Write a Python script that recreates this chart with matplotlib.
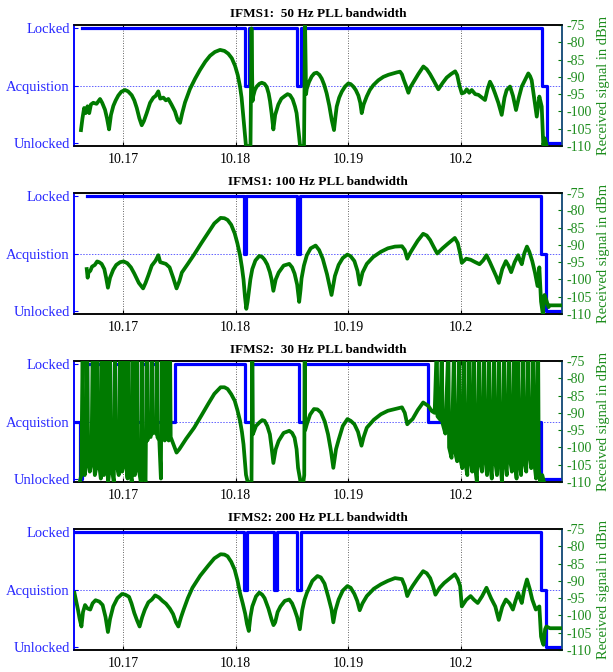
import matplotlib
matplotlib.use("Agg")
import matplotlib.pyplot as plt

# ---------------- data ----------------
titles = ["IFMS1:  50 Hz PLL bandwidth", "IFMS1: 100 Hz PLL bandwidth",
          "IFMS2:  30 Hz PLL bandwidth", "IFMS2: 200 Hz PLL bandwidth"]
x_ticks = [10.17, 10.18, 10.19, 10.20]
x_tick_labels = ["10.17", "10.18", "10.19", "10.2"]
state_ticks = [0, 1, 2]
state_labels = ["Unlocked", "Acquistion", "Locked"]
dbm_ticks = [-110, -105, -100, -95, -90, -85, -80, -75]
x_range = [10.16565, 10.20895]
dbm_range = [-110, -75]

# Panel 1 : IFMS1 50 Hz
p1_state_f = [10.16636, 10.18080, 10.18120, 10.18540, 10.18580, 10.20716, 10.20760, 10.20895]
p1_state = [2, 1, 2, 1, 2, 1, 0, 0]
p1_sig = [
    (10.16627, -105.4), (10.16640, -102.0), (10.16655, -99.0), (10.16668, -100.5),
    (10.16685, -98.5), (10.16700, -100.5), (10.16715, -98.0), (10.16736, -97.5),
    (10.16765, -97.8), (10.16796, -96.4), (10.16815, -97.5), (10.16840, -99.5),
    (10.16858, -102.0), (10.16876, -105.2), (10.16893, -101.0), (10.16914, -98.4),
    (10.16935, -96.8), (10.16958, -95.4), (10.16985, -94.3), (10.17018, -93.8),
    (10.17045, -94.2), (10.17077, -95.3), (10.17100, -96.8), (10.17122, -99.0),
    (10.17145, -102.0), (10.17166, -104.0), (10.17185, -102.8), (10.17210, -100.5),
    (10.17240, -97.5), (10.17269, -96.0), (10.17290, -95.5), (10.17313, -94.2),
    (10.17330, -96.3), (10.17358, -96.0), (10.17380, -96.8), (10.17402, -96.4),
    (10.17430, -98.0), (10.17461, -100.0), (10.17485, -102.5), (10.17506, -103.3),
    (10.17525, -100.5), (10.17550, -97.4), (10.17594, -93.5), (10.17640, -90.5),
    (10.17683, -88.0), (10.17730, -85.6), (10.17772, -83.9), (10.17815, -82.8),
    (10.17861, -82.2), (10.17900, -82.5), (10.17934, -83.3), (10.17965, -84.6),
    (10.17994, -86.8), (10.18018, -89.5), (10.18038, -92.8), (10.18052, -96.0),
    (10.18062, -99.6), (10.18073, -103.5), (10.18083, -107.3), (10.18091, -110.0),
    (10.18131, -110.0), (10.18140, -76.0), (10.18149, -97.0), (10.18156, -95.5),
    (10.18170, -93.8), (10.18186, -92.8), (10.18210, -92.0), (10.18231, -91.7),
    (10.18255, -92.0), (10.18275, -92.9), (10.18292, -94.8), (10.18304, -97.0),
    (10.18318, -100.5), (10.18334, -105.2), (10.18350, -101.0), (10.18378, -98.0),
    (10.18405, -96.3), (10.18437, -95.5), (10.18460, -95.0), (10.18482, -95.3),
    (10.18505, -96.5), (10.18526, -98.6), (10.18540, -100.5), (10.18550, -103.4),
    (10.18560, -106.5), (10.18571, -110.0), (10.18606, -110.0), (10.18615, -74.0),
    (10.18624, -95.0), (10.18630, -93.5), (10.18650, -91.5), (10.18674, -89.9),
    (10.18697, -89.0), (10.18719, -88.8), (10.18742, -89.4), (10.18763, -90.5),
    (10.18785, -92.3), (10.18807, -94.8), (10.18830, -98.3), (10.18852, -102.5),
    (10.18872, -105.4), (10.18885, -101.5), (10.18896, -98.6), (10.18918, -96.0),
    (10.18941, -94.3), (10.18970, -92.8), (10.18999, -91.9), (10.19020, -92.1),
    (10.19043, -92.8), (10.19065, -93.8), (10.19088, -95.4), (10.19105, -97.5),
    (10.19118, -100.5), (10.19135, -98.0), (10.19162, -95.7), (10.19190, -93.8),
    (10.19221, -92.4), (10.19265, -91.0), (10.19310, -90.0), (10.19355, -89.4),
    (10.19398, -89.0), (10.19430, -88.7), (10.19458, -88.5), (10.19475, -89.3),
    (10.19490, -90.8), (10.19510, -92.5), (10.19532, -94.6), (10.19550, -93.0),
    (10.19576, -91.6), (10.19620, -89.2), (10.19665, -87.0), (10.19695, -87.8),
    (10.19724, -89.2), (10.19760, -91.3), (10.19798, -93.6), (10.19835, -91.8),
    (10.19872, -90.2), (10.19910, -89.2), (10.19947, -88.4), (10.19965, -89.5),
    (10.19985, -92.5), (10.20006, -94.8), (10.20030, -94.5), (10.20050, -93.6),
    (10.20072, -94.6), (10.20094, -93.8), (10.20125, -95.0), (10.20153, -95.2),
    (10.20185, -96.0), (10.20212, -96.7), (10.20235, -93.5), (10.20256, -91.4),
    (10.20278, -92.8), (10.20301, -94.8), (10.20330, -97.5), (10.20360, -101.0),
    (10.20385, -96.0), (10.20404, -93.8), (10.20434, -92.8), (10.20460, -95.5),
    (10.20487, -99.6), (10.20512, -96.0), (10.20538, -92.8), (10.20568, -90.8),
    (10.20596, -89.0), (10.20612, -89.8), (10.20626, -91.0), (10.20645, -95.5),
    (10.20671, -101.5), (10.20694, -95.7), (10.20715, -98.6), (10.20729, -109.7),
    (10.20744, -107.8), (10.20759, -110.0)]

# Panel 2 : IFMS1 100 Hz
p2_state_f = [10.16678, 10.18069, 10.18094, 10.18541, 10.18566, 10.20709, 10.20756, 10.20895]
p2_state = [2, 1, 2, 1, 2, 1, 0, 0]
p2_sig = [
    (10.16678, -97.0), (10.16686, -99.5), (10.16694, -98.0), (10.16710, -97.5),
    (10.16725, -96.3), (10.16750, -95.8), (10.16770, -94.8), (10.16788, -95.0),
    (10.16810, -95.5), (10.16834, -97.0), (10.16850, -99.5), (10.16866, -102.4),
    (10.16885, -99.5), (10.16913, -97.2), (10.16940, -95.8), (10.16975, -95.0),
    (10.17005, -94.8), (10.17038, -95.3), (10.17070, -96.5), (10.17100, -98.3),
    (10.17140, -101.0), (10.17178, -102.6), (10.17200, -101.0), (10.17225, -98.8),
    (10.17255, -96.0), (10.17288, -94.6), (10.17313, -93.0), (10.17330, -95.0),
    (10.17350, -95.2), (10.17380, -95.5), (10.17413, -96.5), (10.17445, -99.5),
    (10.17475, -102.6), (10.17500, -100.5), (10.17522, -98.0), (10.17575, -95.5),
    (10.17631, -92.8), (10.17695, -89.5), (10.17756, -86.5), (10.17810, -83.8),
    (10.17866, -82.2), (10.17900, -82.3), (10.17928, -82.8), (10.17960, -84.2),
    (10.17991, -86.7), (10.18015, -89.6), (10.18038, -93.0), (10.18055, -96.5),
    (10.18069, -100.0), (10.18082, -105.0), (10.18094, -108.5), (10.18105, -106.5),
    (10.18116, -103.7), (10.18130, -100.0), (10.18147, -97.0), (10.18175, -94.5),
    (10.18209, -93.2), (10.18235, -93.5), (10.18256, -94.3), (10.18280, -95.7),
    (10.18303, -97.9), (10.18318, -100.0), (10.18334, -103.3), (10.18355, -100.0),
    (10.18381, -98.0), (10.18425, -96.0), (10.18475, -95.5), (10.18500, -96.5),
    (10.18522, -98.3), (10.18545, -101.5), (10.18563, -106.5), (10.18575, -103.0),
    (10.18584, -99.7), (10.18605, -96.0), (10.18631, -93.0), (10.18665, -91.0),
    (10.18709, -90.2), (10.18740, -91.5), (10.18772, -94.0), (10.18810, -98.5),
    (10.18850, -104.5), (10.18880, -99.0), (10.18913, -95.8), (10.18950, -93.8),
    (10.18991, -92.8), (10.19020, -93.3), (10.19053, -94.7), (10.19080, -97.5),
    (10.19100, -101.5), (10.19125, -98.0), (10.19163, -95.5), (10.19220, -93.5),
    (10.19288, -92.0), (10.19350, -91.0), (10.19413, -90.5), (10.19475, -90.4),
    (10.19500, -91.5), (10.19522, -94.0), (10.19545, -92.5), (10.19569, -91.2),
    (10.19615, -88.8), (10.19663, -86.8), (10.19695, -87.3), (10.19725, -88.6),
    (10.19755, -90.5), (10.19788, -92.5), (10.19835, -91.0), (10.19881, -89.7),
    (10.19944, -88.0), (10.19970, -89.5), (10.19991, -92.5), (10.20006, -95.2),
    (10.20045, -94.0), (10.20084, -94.3), (10.20125, -95.0), (10.20163, -95.6),
    (10.20195, -94.5), (10.20225, -93.0), (10.20255, -95.0), (10.20288, -97.4),
    (10.20310, -99.0), (10.20334, -101.0), (10.20365, -97.0), (10.20397, -94.7),
    (10.20420, -96.0), (10.20444, -97.9), (10.20475, -95.0), (10.20506, -93.0),
    (10.20522, -94.5), (10.20538, -95.6), (10.20560, -92.5), (10.20584, -90.5),
    (10.20605, -92.0), (10.20631, -94.7), (10.20655, -98.0), (10.20678, -101.9),
    (10.20694, -96.5), (10.20709, -106.4), (10.20725, -110.0), (10.20740, -104.5),
    (10.20756, -106.0), (10.20775, -108.0), (10.20788, -107.5), (10.20881, -107.5)]

# Panel 3 : IFMS2 30 Hz
p3_state_f = [10.16565, 10.16616, 10.16638, 10.16683, 10.16731, 10.16772, 10.16811, 10.16849,
              10.16885, 10.16929, 10.16973, 10.17009, 10.17047, 10.17086, 10.17122, 10.17166,
              10.17210, 10.17255, 10.17299, 10.17343, 10.17379, 10.17417, 10.17465, 10.18084,
              10.18147, 10.18563, 10.18610, 10.19709, 10.20707, 10.20895]
p3_state = [1, 0, 1, 2, 1, 2, 1, 2,
            1, 2, 1, 2, 1, 2, 1, 2,
            1, 2, 1, 2, 1, 1, 2, 1,
            2, 1, 2, 1, 0, 0]
p3_sig = [
    # cycle-slip region, left
    (10.16616, -110.0), (10.16630, -108.0), (10.16642, -70.0), (10.16648, -104.0),
    (10.16660, -108.0), (10.16672, -105.0), (10.16683, -70.0), (10.16690, -101.0),
    (10.16705, -107.0), (10.16720, -104.0), (10.16731, -70.0), (10.16738, -102.0),
    (10.16750, -108.0), (10.16762, -106.0), (10.16772, -70.0), (10.16778, -100.0),
    (10.16792, -106.0), (10.16803, -109.0), (10.16811, -70.0), (10.16817, -103.0),
    (10.16830, -108.0), (10.16842, -106.0), (10.16849, -70.0), (10.16855, -104.0),
    (10.16868, -110.0), (10.16878, -107.0), (10.16885, -70.0), (10.16892, -102.0),
    (10.16905, -107.0), (10.16918, -110.0), (10.16929, -70.0), (10.16935, -101.0),
    (10.16950, -106.0), (10.16962, -108.0), (10.16973, -70.0), (10.16980, -103.0),
    (10.16992, -107.0), (10.17002, -105.0), (10.17009, -70.0), (10.17015, -100.0),
    (10.17030, -106.0), (10.17040, -109.0), (10.17047, -70.0), (10.17053, -104.0),
    (10.17066, -108.0), (10.17078, -110.0), (10.17086, -70.0), (10.17092, -103.0),
    (10.17105, -108.0), (10.17115, -106.0), (10.17122, -70.0), (10.17128, -102.0),
    (10.17143, -107.0), (10.17158, -110.0), (10.17166, -70.0), (10.17172, -104.0),
    (10.17185, -108.0), (10.17200, -110.0), (10.17210, -70.0), (10.17216, -98.0),
    (10.17232, -96.0), (10.17245, -97.0), (10.17255, -70.0), (10.17261, -96.0),
    (10.17280, -95.0), (10.17292, -96.0), (10.17299, -70.0), (10.17305, -97.0),
    (10.17322, -98.0), (10.17336, -109.0), (10.17343, -70.0), (10.17350, -97.0),
    (10.17370, -98.0), (10.17379, -70.0), (10.17385, -97.0), (10.17405, -98.0),
    (10.17417, -70.0), (10.17423, -97.0), (10.17440, -98.5),
    # continuous tracking
    (10.17475, -101.5), (10.17500, -100.5), (10.17560, -97.5), (10.17631, -94.3),
    (10.17695, -90.8), (10.17756, -87.4), (10.17810, -84.5), (10.17866, -82.6),
    (10.17900, -82.6), (10.17928, -83.1), (10.17960, -84.6), (10.17991, -86.5),
    (10.18015, -89.2), (10.18038, -92.3), (10.18055, -95.5), (10.18069, -99.1),
    (10.18080, -103.5), (10.18091, -107.9), (10.18106, -110.0), (10.18140, -110.0),
    (10.18147, -70.0), (10.18152, -96.2), (10.18180, -93.8), (10.18209, -92.8),
    (10.18235, -92.1), (10.18256, -92.3), (10.18280, -93.8), (10.18303, -96.2),
    (10.18318, -100.0), (10.18334, -104.5), (10.18355, -100.5), (10.18381, -98.1),
    (10.18425, -95.8), (10.18475, -95.2), (10.18500, -95.8), (10.18522, -97.2),
    (10.18540, -100.5), (10.18553, -105.9), (10.18575, -110.0), (10.18600, -110.0),
    (10.18608, -108.0), (10.18612, -70.0), (10.18616, -95.0), (10.18631, -93.3),
    (10.18660, -90.5), (10.18694, -88.9), (10.18725, -89.0), (10.18756, -89.9),
    (10.18790, -92.5), (10.18819, -96.2), (10.18845, -101.0), (10.18866, -105.9),
    (10.18890, -100.5), (10.18913, -97.8), (10.18950, -93.8), (10.18991, -91.8),
    (10.19020, -92.3), (10.19053, -93.3), (10.19085, -95.5), (10.19116, -99.5),
    (10.19135, -97.0), (10.19163, -94.3), (10.19225, -92.0), (10.19288, -90.4),
    (10.19350, -89.4), (10.19413, -88.9), (10.19475, -88.4), (10.19500, -90.0),
    (10.19522, -93.3), (10.19545, -92.5), (10.19569, -91.8), (10.19615, -89.2),
    (10.19663, -87.0), (10.19709, -88.0), (10.19740, -89.5), (10.19765, -90.0),
    # cycle-slip region, right
    (10.19784, -70.0), (10.19790, -91.0), (10.19815, -92.0), (10.19829, -70.0),
    (10.19835, -93.0), (10.19860, -96.0), (10.19887, -70.0), (10.19893, -100.0),
    (10.19915, -103.0), (10.19938, -70.0), (10.19944, -101.0), (10.19965, -104.0),
    (10.19985, -70.0), (10.19991, -103.0), (10.20010, -106.0), (10.20029, -70.0),
    (10.20035, -104.0), (10.20055, -108.0), (10.20074, -70.0), (10.20080, -103.0),
    (10.20098, -107.0), (10.20115, -70.0), (10.20121, -105.0), (10.20140, -110.0),
    (10.20160, -70.0), (10.20166, -104.0), (10.20185, -107.0), (10.20204, -70.0),
    (10.20210, -102.0), (10.20230, -108.0), (10.20248, -70.0), (10.20254, -104.0),
    (10.20272, -109.0), (10.20293, -70.0), (10.20299, -103.0), (10.20318, -108.0),
    (10.20337, -70.0), (10.20343, -102.0), (10.20362, -110.0), (10.20382, -70.0),
    (10.20388, -104.0), (10.20405, -108.0), (10.20426, -70.0), (10.20432, -103.0),
    (10.20450, -107.0), (10.20470, -70.0), (10.20476, -104.0), (10.20492, -109.0),
    (10.20508, -70.0), (10.20514, -103.0), (10.20532, -108.0), (10.20553, -70.0),
    (10.20559, -104.0), (10.20578, -107.0), (10.20597, -70.0), (10.20603, -101.0),
    (10.20622, -106.0), (10.20642, -70.0), (10.20648, -104.0), (10.20665, -109.0),
    (10.20683, -70.0), (10.20689, -106.0), (10.20700, -110.0), (10.20720, -108.0),
    (10.20735, -110.0)]

# Panel 4 : IFMS2 200 Hz
p4_state_f = [10.16565, 10.18075, 10.18100, 10.18341, 10.18366, 10.18544, 10.18581,
              10.20709, 10.20756, 10.20895]
p4_state = [2, 1, 2, 1, 2, 1, 2, 1, 0, 0]
p4_sig = [
    (10.16569, -93.5), (10.16585, -96.0), (10.16600, -98.3), (10.16615, -101.0),
    (10.16631, -103.2), (10.16645, -99.0), (10.16663, -97.0), (10.16685, -98.0),
    (10.16709, -98.3), (10.16730, -96.5), (10.16756, -95.6), (10.16790, -96.0),
    (10.16819, -97.0), (10.16845, -100.5), (10.16866, -104.8), (10.16885, -101.0),
    (10.16913, -97.4), (10.16950, -95.0), (10.16991, -93.8), (10.17020, -94.0),
    (10.17053, -94.6), (10.17075, -96.5), (10.17100, -99.3), (10.17125, -101.5),
    (10.17147, -103.2), (10.17170, -100.5), (10.17194, -98.3), (10.17225, -96.2),
    (10.17256, -95.4), (10.17285, -94.2), (10.17319, -94.8), (10.17350, -95.8),
    (10.17381, -96.6), (10.17415, -98.0), (10.17444, -99.6), (10.17470, -102.0),
    (10.17491, -103.2), (10.17515, -100.5), (10.17538, -98.3), (10.17575, -95.0),
    (10.17616, -92.0), (10.17685, -88.5), (10.17756, -85.6), (10.17810, -83.5),
    (10.17866, -82.3), (10.17900, -82.4), (10.17928, -82.9), (10.17960, -84.5),
    (10.17991, -86.8), (10.18015, -89.8), (10.18038, -93.5), (10.18062, -96.5),
    (10.18084, -99.5), (10.18100, -102.5), (10.18116, -104.5), (10.18130, -100.5),
    (10.18147, -97.4), (10.18180, -94.5), (10.18209, -93.4), (10.18235, -94.0),
    (10.18256, -95.0), (10.18290, -98.0), (10.18319, -101.3), (10.18335, -102.8),
    (10.18350, -102.0), (10.18372, -99.0), (10.18397, -97.4), (10.18435, -95.8),
    (10.18475, -95.4), (10.18500, -96.5), (10.18522, -98.3), (10.18545, -100.5),
    (10.18569, -104.0), (10.18590, -98.5), (10.18610, -95.5), (10.18631, -93.5),
    (10.18680, -90.0), (10.18725, -88.6), (10.18755, -89.0), (10.18788, -90.8),
    (10.18820, -94.5), (10.18850, -98.3), (10.18866, -102.0), (10.18885, -98.5),
    (10.18913, -95.4), (10.18950, -92.8), (10.18991, -91.5), (10.19020, -92.0),
    (10.19053, -93.8), (10.19078, -95.8), (10.19100, -98.5), (10.19125, -96.5),
    (10.19163, -94.4), (10.19225, -92.3), (10.19288, -91.0), (10.19350, -90.0),
    (10.19413, -89.2), (10.19475, -89.5), (10.19500, -91.5), (10.19522, -94.4),
    (10.19545, -92.8), (10.19569, -91.5), (10.19615, -89.3), (10.19663, -87.2),
    (10.19695, -87.8), (10.19725, -89.2), (10.19750, -91.5), (10.19772, -94.0),
    (10.19810, -92.0), (10.19850, -90.6), (10.19895, -89.4), (10.19944, -88.1),
    (10.19970, -89.5), (10.19991, -91.5), (10.20006, -97.4), (10.20045, -95.5),
    (10.20084, -94.4), (10.20115, -95.5), (10.20147, -96.4), (10.20185, -94.5),
    (10.20225, -92.0), (10.20265, -95.0), (10.20303, -97.4), (10.20334, -101.3),
    (10.20365, -97.5), (10.20397, -95.4), (10.20430, -96.5), (10.20459, -98.3),
    (10.20485, -95.5), (10.20506, -93.5), (10.20522, -95.0), (10.20538, -96.4),
    (10.20560, -92.5), (10.20584, -89.6), (10.20610, -92.5), (10.20631, -95.4),
    (10.20663, -98.3), (10.20694, -97.4), (10.20709, -106.1), (10.20720, -107.5),
    (10.20731, -108.5), (10.20745, -104.0), (10.20756, -103.2), (10.20788, -103.7),
    (10.20881, -103.7)]

panels = [(p1_state_f, p1_state, p1_sig),
          (p2_state_f, p2_state, p2_sig),
          (p3_state_f, p3_state, p3_sig),
          (p4_state_f, p4_state, p4_sig)]

# ---------------- style ----------------
plt.rcParams["font.family"] = ["Liberation Serif", "DejaVu Serif"]
BLUE = "#0000ff"
LABEL_BLUE = "#2828ff"
GREEN = "#007a00"
LABEL_GREEN = "#1c8c1c"
RIGHT_SPINE = "#1a4f7a"

fig = plt.figure(figsize=(6.13, 6.72), dpi=100)
left = 74 / 613
width = (562 - 74) / 613
height = 121 / 672
for i, (sf, st, sig) in enumerate(panels):
    gf = [p[0] for p in sig]
    gd = [p[1] for p in sig]
    bottom = 1 - (146 + 168 * i) / 672
    ax = fig.add_axes([left, bottom, width, height])
    ax2 = ax.twinx()

    ax.plot(sf, st, drawstyle="steps-post", color=BLUE, lw=2.3, zorder=3)
    ax2.plot(gf, gd, color=GREEN, lw=2.7, zorder=3, solid_joinstyle="round")

    ax.set_xlim(x_range)
    ax.set_ylim(-0.045, 2.045)
    ax2.set_ylim(dbm_range)

    ax.set_xticks(x_ticks)
    ax.set_xticklabels(x_tick_labels, fontsize=10)
    ax.set_yticks(state_ticks)
    ax.set_yticklabels(state_labels, fontsize=10.5, color=LABEL_BLUE)
    ax2.set_yticks(dbm_ticks)
    ax2.set_yticklabels([str(v) for v in dbm_ticks], fontsize=10, color=LABEL_GREEN)
    ax2.set_ylabel("Received signal in dBm", fontsize=10.5, color=LABEL_GREEN, labelpad=4)

    ax.grid(axis="x", color="black", linestyle=(0, (1, 2)), linewidth=0.6, alpha=0.8)
    ax.axhline(1, color="#6060ff", linestyle=(0, (1.5, 1.5)), linewidth=0.7, zorder=1)

    ax.tick_params(axis="x", direction="in", length=3, top=True, pad=5, colors="black")
    ax.tick_params(axis="y", direction="in", length=3, colors=BLUE, pad=3)
    ax.tick_params(axis="y", labelcolor=LABEL_BLUE)
    ax2.tick_params(axis="y", direction="in", length=3, colors=GREEN, pad=3)
    ax2.tick_params(axis="y", labelcolor=LABEL_GREEN)

    for a in (ax, ax2):
        a.spines["top"].set_color("black")
        a.spines["bottom"].set_color("black")
        a.spines["left"].set_color(BLUE)
        a.spines["right"].set_color(RIGHT_SPINE)
        for s in a.spines.values():
            s.set_linewidth(1.1)

    ax.set_title(titles[i], fontsize=9.5, fontweight="bold", pad=6)

fig.savefig("out.png", dpi=100)
